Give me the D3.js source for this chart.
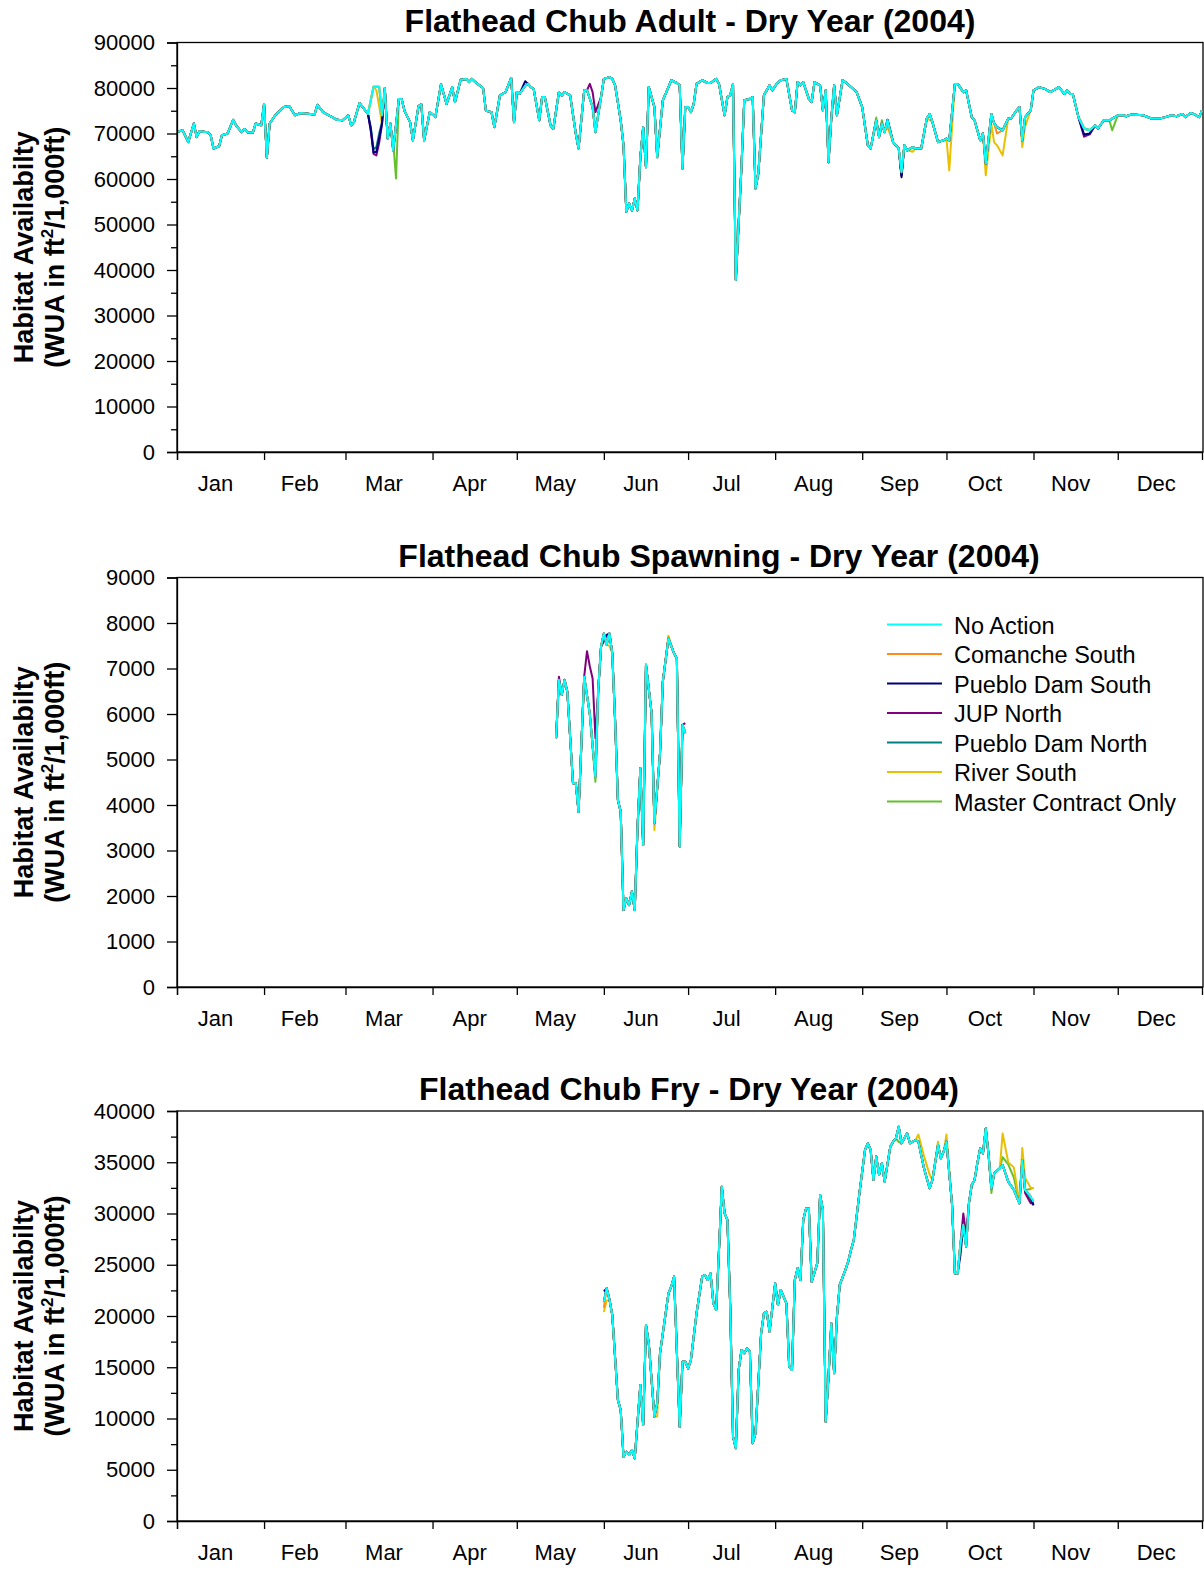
<!DOCTYPE html>
<html><head><meta charset="utf-8">
<script src="https://cdn.jsdelivr.net/npm/d3@7"></script>
<style>
body{margin:0;background:#fff}
svg{display:block;font-family:"Liberation Sans",Arial,sans-serif}
</style></head>
<body><svg id="c" width="1204" height="1570"></svg>
<script>
// ---------- labels ----------
const monthLabels = ["Jan","Feb","Mar","Apr","May","Jun","Jul","Aug","Sep","Oct","Nov","Dec"];
const monthStartDays = [0,31,60,91,121,152,182,213,244,274,305,335,366];
const seriesNames = ["No Action","Comanche South","Pueblo Dam South","JUP North","Pueblo Dam North","River South","Master Contract Only"];
const seriesColors = ["#00FFFF","#FF8C1A","#00007F","#80007F","#008080","#E8C000","#66C02E"];

// ---------- Adult (day-of-year, WUA) ----------
const adultNoAction = [[0,70300],[2,70700],[4,68100],[6,72200],[7,69200],[8,70500],[11,70300],[12,69600],[13,66700],[15,67200],[16,69600],[18,70000],[20,73000],[21,71800],[23,70300],[24,71000],[25,70300],[27,70200],[28,72200],[30,71800],[31,76500],[32,64700],[33,72200],[35,74000],[38,75800],[40,76000],[42,74000],[44,74500],[49,74200],[50,76300],[52,74700],[57,73000],[59,72900],[61,74000],[62,71800],[63,72500],[65,76700],[68,74300],[70,80300],[72,80300],[73,74000],[74,80000],[75,68900],[76,72200],[77,66300],[79,77600],[80,77600],[81,75000],[83,72500],[84,68500],[86,76000],[87,76400],[88,68500],[90,74700],[92,73600],[94,80800],[96,76500],[98,80200],[99,76900],[101,81800],[103,82000],[104,81300],[105,82000],[107,80900],[109,80000],[110,75000],[112,74700],[113,71400],[115,78400],[117,79100],[119,82200],[120,72500],[121,79100],[122,78700],[124,80500],[125,80900],[126,80200],[127,79800],[129,72900],[130,78000],[131,78000],[133,71800],[134,71000],[136,79100],[137,78300],[138,79100],[140,78400],[142,70000],[143,66700],[145,79500],[146,79500],[148,75800],[149,70300],[151,78000],[152,82000],[154,82400],[155,82000],[156,80600],[158,72900],[159,67400],[160,52800],[161,54600],[162,53100],[163,55700],[164,53100],[165,64800],[166,71400],[167,62600],[168,80200],[170,75800],[171,64800],[173,77300],[175,80200],[176,81700],[178,81100],[179,80600],[180,62300],[181,75800],[182,75800],[183,74700],[184,76500],[185,80900],[187,81700],[189,81100],[190,81100],[192,82000],[193,80900],[195,74000],[196,78000],[197,78400],[198,80900],[199,37800],[201,62600],[202,77300],[204,77600],[205,78000],[206,57900],[207,61200],[209,78400],[211,80600],[212,79500],[214,81300],[215,81700],[217,82000],[219,75100],[220,74700],[221,81300],[222,80600],[223,81300],[225,77600],[226,76900],[227,81300],[229,80600],[230,75100],[231,79500],[232,63700],[233,73300],[234,80600],[235,74000],[237,81700],[238,81300],[240,80200],[242,79100],[244,75800],[246,67400],[247,66700],[249,72900],[250,69200],[251,72200],[252,70300],[253,73000],[255,68100],[257,66700],[258,61500],[259,67400],[260,66300],[262,67000],[263,66700],[265,66700],[267,73300],[268,74300],[269,72500],[271,68100],[273,68500],[274,68900],[275,68500],[277,80900],[278,80900],[280,79100],[281,79500],[283,73600],[284,72900],[286,68500],[287,70000],[288,63400],[290,74300],[291,72200],[292,71400],[294,70700],[296,73300],[297,73300],[299,75100],[300,75800],[301,68500],[302,73600],[304,75100],[305,79500],[307,80200],[309,79800],[311,79100],[313,79800],[314,80200],[316,78700],[317,79500],[318,78700],[319,78700],[321,73600],[323,71100],[325,70700],[327,71800],[328,71100],[330,72900],[332,72900],[335,74000],[337,74000],[338,73800],[340,74200],[344,74000],[347,73300],[350,73300],[352,73600],[354,74000],[356,73800],[358,74300],[359,73600],[361,74500],[362,74300],[364,73600],[365,75100]];
const adultComancheSouth = [[253,72000],[292,70000]];
const adultPuebloDamSouth = [[69,71000],[70,65800],[71,66000],[72,69000],[73,72200],[124,81500],[258,60400],[323,69800],[325,70000]];
const adultJupNorth = [[69,70500],[70,65500],[71,65200],[72,68000],[73,72000],[147,80900],[148,79100],[149,74700],[258,60800],[323,69300],[325,69800]];
const adultPuebloDamNorth = [[69,71500],[70,66500],[71,67000],[72,70000],[73,72500],[258,60800]];
const adultRiverSouth = [[71,79500],[72,76000],[73,72000],[253,71500],[258,60800],[262,66000],[268,73000],[275,61900],[288,60800],[290,72000],[291,68000],[292,67400],[294,65200],[301,67000],[302,71500]];
const adultMasterContract = [[76,71000],[77,68000],[78,60100],[249,73500],[251,72900],[333,70700]];

// ---------- Spawning ----------
const spawnNoAction = [[135,5470],[136,6750],[137,6420],[138,6750],[139,6490],[141,4480],[142,4480],[143,3850],[145,6820],[147,6000],[149,4620],[150,6530],[151,7480],[152,7770],[153,7520],[154,7770],[155,7330],[156,5870],[157,4110],[158,3850],[159,1690],[160,1950],[161,1800],[162,2100],[163,1690],[164,3520],[165,4810],[166,3120],[167,7080],[169,6020],[170,3600],[172,5140],[173,6710],[175,7660],[177,7330],[178,7220],[179,3090],[180,5760],[181,5580]];
const spawnComancheSouth = [];
const spawnPuebloDamSouth = [[152,7600],[153,7740]];
const spawnJupNorth = [[136,6820],[146,7380],[147,7050],[148,6780],[149,5470],[181,5800]];
const spawnPuebloDamNorth = [];
const spawnRiverSouth = [[154,7500],[170,3450],[175,7720]];
const spawnMasterContract = [[149,4510]];

// ---------- Fry ----------
const fryNoAction = [[152,21400],[153,22700],[154,21600],[155,20100],[157,11800],[158,10830],[159,6280],[160,6760],[161,6440],[162,6930],[163,6110],[165,13270],[166,9360],[167,19120],[168,17330],[170,10180],[171,11480],[172,16360],[175,22210],[176,22860],[177,23840],[179,9200],[180,15540],[181,15540],[182,14890],[183,15710],[185,20260],[187,23840],[188,24000],[189,23510],[190,24160],[191,21240],[192,20590],[193,26440],[194,32620],[195,30020],[196,29370],[197,20910],[198,8230],[199,7090],[200,14730],[201,16680],[202,16360],[203,16850],[204,16520],[205,7580],[206,8550],[208,18310],[209,20260],[210,20420],[211,18470],[213,23190],[214,21070],[215,22540],[217,21240],[218,15060],[219,14730],[220,23510],[221,24650],[222,23510],[223,29370],[224,30500],[225,30500],[226,23350],[228,25140],[229,31810],[230,30350],[231,9690],[232,14080],[233,19290],[234,14410],[235,19940],[236,23030],[238,24490],[239,25300],[240,26440],[241,27420],[243,31970],[245,36200],[246,36850],[247,36200],[248,33270],[249,35550],[250,33760],[251,34900],[252,33110],[254,36520],[255,37010],[256,37340],[257,38470],[258,36850],[260,37820],[261,36850],[263,37170],[264,37010],[266,34410],[268,32460],[269,33270],[271,36690],[272,35380],[273,36040],[274,37010],[276,30830],[277,24160],[278,24160],[279,27090],[280,28880],[281,26770],[282,30990],[283,32780],[284,33270],[285,34900],[286,36360],[287,35870],[288,38310],[289,35710],[290,32460],[291,33920],[293,34410],[294,34730],[296,33110],[298,32300],[300,30990],[301,35220],[302,32300],[304,31640],[305,31160]];
const fryComancheSouth = [[152,20800]];
const fryPuebloDamSouth = [[152,22400],[279,26000],[305,30800]];
const fryJupNorth = [[280,30000],[281,28000],[302,32000],[304,31000],[305,31000]];
const fryPuebloDamNorth = [[304,31200],[305,30800]];
const fryRiverSouth = [[152,20400],[153,21500],[171,10200],[264,37700],[266,35600],[268,33800],[271,37000],[274,37700],[294,37800],[296,35000],[298,34500],[301,36400],[302,33500],[304,32500],[305,32500]];
const fryMasterContract = [[257,37000],[290,32000],[294,35500],[296,34800],[298,33500],[301,35500],[304,32400],[305,32500]];

// ---------- build ----------
function merge(base, over){
  const m = new Map(base.map(p=>[p[0],p[1]]));
  over.forEach(p=>m.set(p[0],p[1]));
  return Array.from(m.entries()).sort((a,b)=>a[0]-b[0]);
}
function seriesSet(base, lists){
  return seriesNames.map((n,i)=>({name:n,color:seriesColors[i],values: i===0?base:merge(base,lists[i-1])}));
}
const panels = [
  {title:"Flathead Chub Adult - Dry Year (2004)", titleX:690, top:42.5, bottom:452, yMax:90000, step:10000, minor:true,
   series:seriesSet(adultNoAction,[adultComancheSouth,adultPuebloDamSouth,adultJupNorth,adultPuebloDamNorth,adultRiverSouth,adultMasterContract])},
  {title:"Flathead Chub Spawning - Dry Year (2004)", titleX:719, top:577.5, bottom:987, yMax:9000, step:1000, minor:false, legend:true,
   series:seriesSet(spawnNoAction,[spawnComancheSouth,spawnPuebloDamSouth,spawnJupNorth,spawnPuebloDamNorth,spawnRiverSouth,spawnMasterContract])},
  {title:"Flathead Chub Fry - Dry Year (2004)", titleX:689, top:1111, bottom:1521, yMax:40000, step:5000, minor:true,
   series:seriesSet(fryNoAction,[fryComancheSouth,fryPuebloDamSouth,fryJupNorth,fryPuebloDamNorth,fryRiverSouth,fryMasterContract])}
];

const svg = d3.select("#c");
const L = 177, R = 1203;
const x = d3.scaleLinear().domain([0,365]).range([L,1202]);

panels.forEach(p=>{
  const g = svg.append("g");
  const y = d3.scaleLinear().domain([0,p.yMax]).range([p.bottom,p.top]);
  g.append("rect").attr("x",L).attr("y",p.top).attr("width",R-L).attr("height",p.bottom-p.top)
    .attr("fill","none").attr("stroke","#000").attr("stroke-width",1.3);
  const line = d3.line().x(d=>x(d[0])).y(d=>y(d[1]));
  const lg = g.append("g");
  p.series.slice().reverse().forEach(s=>{
    lg.append("path").datum(s.values).attr("d",line).attr("fill","none")
      .attr("stroke",s.color).attr("stroke-width",2).attr("stroke-linejoin","round");
  });
  const ticks = d3.range(0,p.yMax+1,p.step);
  const ya = g.append("g").attr("transform",`translate(${L},0)`)
    .call(d3.axisLeft(y).tickValues(ticks).tickSize(10).tickPadding(12).tickFormat(d3.format("d")));
  if(p.minor){
    const mt = d3.range(p.step/2,p.yMax,p.step);
    g.append("g").attr("transform",`translate(${L},0)`)
      .call(d3.axisLeft(y).tickValues(mt).tickSize(6).tickFormat(""))
      .call(a=>a.select(".domain").remove());
  }
  ya.selectAll("text").attr("font-size",22).attr("font-family","'Liberation Sans',Arial,sans-serif").attr("fill","#000");
  g.append("g").attr("transform",`translate(0,${p.bottom})`)
    .call(d3.axisBottom(x).tickValues(monthStartDays.slice(0,12)).tickSize(8).tickFormat(""));
  svg.selectAll(".domain").attr("stroke-width",1.3);
  svg.selectAll(".tick line").attr("stroke-width",1.3);
  g.selectAll(".mlab").data(monthLabels).enter().append("text")
    .attr("x",(d,i)=>x((monthStartDays[i]+monthStartDays[i+1])/2)-5)
    .attr("y",p.bottom+39).attr("text-anchor","middle").attr("font-size",22).text(d=>d);
  g.append("text").attr("x",p.titleX).attr("y",p.top-11).attr("text-anchor","middle")
    .attr("font-size",32).attr("font-weight","bold").text(p.title);
  const cy = (p.top+p.bottom)/2;
  g.append("text").attr("transform",`translate(33,${cy}) rotate(-90)`).attr("text-anchor","middle")
    .attr("font-size",27).attr("font-weight","bold").text("Habitat Availabilty");
  const t2 = g.append("text").attr("transform",`translate(64,${cy}) rotate(-90)`).attr("text-anchor","middle")
    .attr("font-size",27).attr("font-weight","bold");
  t2.append("tspan").text("(WUA in ft");
  t2.append("tspan").attr("font-size",17).attr("dy",-11).text("2");
  t2.append("tspan").attr("dy",11).text("/1,000ft)");
  if(p.legend){
    const lgd = g.append("g");
    seriesNames.forEach((n,i)=>{
      const yy = 624.5 + i*29.5;
      lgd.append("line").attr("x1",887).attr("x2",942).attr("y1",yy).attr("y2",yy)
        .attr("stroke",seriesColors[i]).attr("stroke-width",2);
      lgd.append("text").attr("x",954).attr("y",yy+1).attr("dominant-baseline","central")
        .attr("font-size",23.5).text(n);
    });
  }
});
</script>
</body></html>
